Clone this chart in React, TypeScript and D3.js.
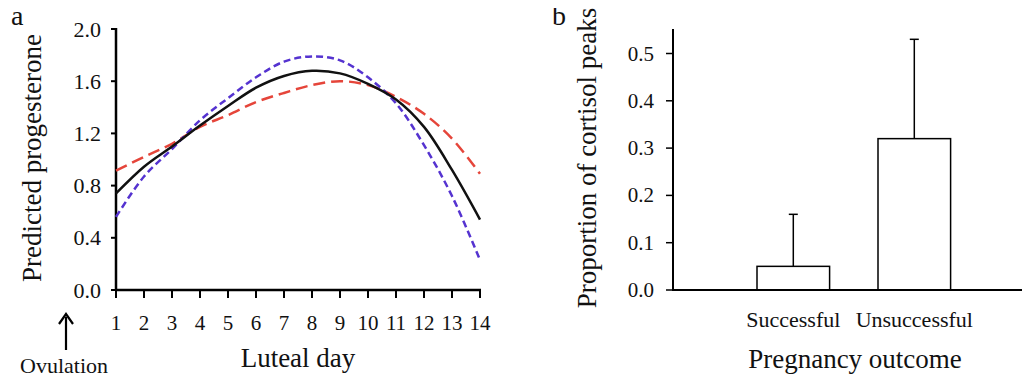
import React from 'react';
import * as d3 from 'd3';

// Panel a: predicted progesterone by luteal day
const days = [1, 2, 3, 4, 5, 6, 7, 8, 9, 10, 11, 12, 13, 14];
const overall = [0.74, 0.945, 1.1, 1.26, 1.41, 1.55, 1.64, 1.68, 1.66, 1.58, 1.46, 1.25, 0.92, 0.54];
const blueSeries = [0.56, 0.87, 1.08, 1.3, 1.47, 1.63, 1.75, 1.79, 1.76, 1.63, 1.43, 1.11, 0.72, 0.23];
const redSeries = [0.915, 1.02, 1.12, 1.25, 1.34, 1.44, 1.51, 1.57, 1.6, 1.57, 1.48, 1.35, 1.16, 0.89];
const progTicks = [0, 0.4, 0.8, 1.2, 1.6, 2.0];

// Panel b: cortisol peaks by pregnancy outcome
const outcomes = ['Successful', 'Unsuccessful'];
const peakMeans = [0.05, 0.32];
const peakUpper = [0.16, 0.53];
const peakTicks = [0, 0.1, 0.2, 0.3, 0.4, 0.5];

const serif = { fontFamily: "'Liberation Serif'" };

const App = () => {
  // panel a scales
  const xA = d3.scaleLinear().domain([1, 14]).range([116, 480]);
  const yA = d3.scaleLinear().domain([0, 2]).range([290, 29]);
  const line = (vals: number[]) =>
    d3.line<number>()
      .x((_, i) => xA(days[i]))
      .y(d => yA(d))
      .curve(d3.curveCatmullRom)(vals) || '';

  // panel b scales
  const xB = d3.scaleBand().domain(outcomes).range([708.6, 999]).paddingInner(0.4).paddingOuter(0.4);
  const yB = d3.scaleLinear().domain([0, 0.5]).range([290, 53.5]);

  return (
    <div style={{ margin: '-8px 0 0 -8px' }}>
      <svg width={1030} height={378} style={{ display: 'block', ...serif }} fill="#111">
        {/* ---- panel a ---- */}
        <text x={11} y={25} fontSize={28} style={serif}>a</text>
        <text transform="translate(41,158) rotate(-90)" textAnchor="middle" fontSize={27} style={serif}>
          Predicted progesterone
        </text>
        {progTicks.map(t => (
          <g key={t}>
            <line x1={111} x2={116} y1={yA(t)} y2={yA(t)} stroke="#000" strokeWidth={2} />
            <text x={101} y={yA(t) + 7.5} textAnchor="end" fontSize={22} style={serif}>{t.toFixed(1)}</text>
          </g>
        ))}
        {days.map(d => (
          <g key={d}>
            <line x1={xA(d)} x2={xA(d)} y1={290} y2={298} stroke="#000" strokeWidth={2} />
            <text x={xA(d)} y={330} textAnchor="middle" fontSize={21} style={serif}>{d}</text>
          </g>
        ))}
        <line x1={116} x2={116} y1={28} y2={291} stroke="#000" strokeWidth={2.5} />
        <line x1={115} x2={481} y1={290} y2={290} stroke="#000" strokeWidth={2.5} />
        <path d={line(redSeries)} fill="none" stroke="#e5453a" strokeWidth={2.5} strokeDasharray="12,6" />
        <path d={line(blueSeries)} fill="none" stroke="#5533d0" strokeWidth={2.5} strokeDasharray="7,4" />
        <path d={line(overall)} fill="none" stroke="#111" strokeWidth={2.5} />
        <text x={298} y={367} textAnchor="middle" fontSize={27} style={serif}>Luteal day</text>
        {/* ovulation arrow */}
        <line x1={66} x2={66} y1={317} y2={350} stroke="#000" strokeWidth={2.2} />
        <path d="M59,324 L66,314 L73,324" fill="none" stroke="#000" strokeWidth={2.2} />
        <text x={64} y={373} textAnchor="middle" fontSize={22} style={serif}>Ovulation</text>

        {/* ---- panel b ---- */}
        <text x={552} y={25} fontSize={28} style={serif}>b</text>
        <text transform="translate(596,158) rotate(-90)" textAnchor="middle" fontSize={27} style={serif}>
          Proportion of cortisol peaks
        </text>
        {peakTicks.map(t => (
          <g key={t}>
            <line x1={666} x2={673} y1={yB(t)} y2={yB(t)} stroke="#000" strokeWidth={1.5} />
            <text x={654} y={yB(t) + 7} textAnchor="end" fontSize={21} style={serif}>{t.toFixed(1)}</text>
          </g>
        ))}
        {outcomes.map((c, i) => {
          const x0 = xB(c) as number;
          const cx = x0 + xB.bandwidth() / 2;
          return (
            <g key={c}>
              <line x1={cx} x2={cx} y1={yB(peakMeans[i])} y2={yB(peakUpper[i])} stroke="#000" strokeWidth={1.5} />
              <line x1={cx - 4.5} x2={cx + 4.5} y1={yB(peakUpper[i])} y2={yB(peakUpper[i])} stroke="#000" strokeWidth={1.5} />
              <rect x={x0} y={yB(peakMeans[i])} width={xB.bandwidth()} height={290 - yB(peakMeans[i])}
                fill="#fff" stroke="#000" strokeWidth={1.5} />
              <text x={cx} y={327} textAnchor="middle" fontSize={22} style={serif}>{c}</text>
            </g>
          );
        })}
        <line x1={673} x2={673} y1={29} y2={291} stroke="#000" strokeWidth={2} />
        <line x1={672} x2={1030} y1={290} y2={290} stroke="#000" strokeWidth={2} />
        <text x={855} y={368} textAnchor="middle" fontSize={27} style={serif}>Pregnancy outcome</text>
      </svg>
    </div>
  );
};

export default App;
